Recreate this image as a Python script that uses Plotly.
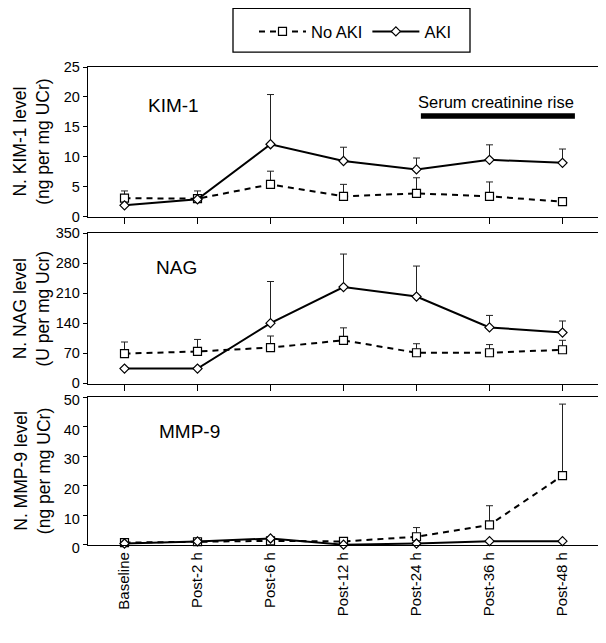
import plotly.graph_objects as go

# ---------------- data ----------------
categories = ["Baseline", "Post-2 h", "Post-6 h", "Post-12 h", "Post-24 h", "Post-36 h", "Post-48 h"]

kim1_no_aki = [3.1, 3.0, 5.4, 3.4, 3.9, 3.4, 2.5]
kim1_no_aki_err = [1.2, 1.3, 2.2, 2.0, 2.6, 2.4, 0.0]
kim1_aki = [1.9, 2.9, 12.1, 9.3, 7.9, 9.5, 9.0]
kim1_aki_err = [0.0, 0.0, 8.3, 2.3, 1.9, 2.5, 2.3]

nag_no_aki = [70, 75, 84, 101, 72, 72, 79]
nag_no_aki_err = [27, 28, 27, 29, 21, 19, 22]
nag_aki = [35, 35, 141, 225, 203, 131, 119]
nag_aki_err = [0, 0, 97, 77, 71, 28, 27]

mmp9_no_aki = [0.8, 1.1, 1.4, 1.2, 2.8, 6.8, 23.5]
mmp9_no_aki_err = [0, 0, 0, 0, 3.1, 6.5, 24.2]
mmp9_aki = [0.5, 1.2, 2.2, 0.1, 0.5, 1.3, 1.3]
mmp9_aki_err = [0, 0, 0, 0, 0, 0, 0]

panels = [
    ("KIM-1", "N. KIM-1 level<br>(ng per mg UCr)", kim1_no_aki, kim1_no_aki_err, kim1_aki, kim1_aki_err, 25, 5),
    ("NAG", "N. NAG level<br>(U per mg Ucr)", nag_no_aki, nag_no_aki_err, nag_aki, nag_aki_err, 350, 70),
    ("MMP-9", "N. MMP-9 level<br>(ng per mg UCr)", mmp9_no_aki, mmp9_no_aki_err, mmp9_aki, mmp9_aki_err, 50, 10),
]

FONT = "Arial, Liberation Sans, sans-serif"
# page has an 8px body margin; figure sized so that it fills the 606x643 window
W, H = 598, 635
ML, MR, MT, MB = 80, 7, 58, 98
PW = W - ML - MR
PH = H - MT - MB
PLOT_LEFT, PLOT_BOTTOM = 88, 545  # page pixels


def py(px):  # page pixel y (from top) -> paper y
    return (PLOT_BOTTOM - px) / PH


def pxx(px):  # page pixel x -> paper x
    return (px - PLOT_LEFT) / PW


domains = [[py(216), 1.0], [py(383.3), py(232.8)], [0.0, py(397)]]
label_pos = [(0.30, 18.6), (0.41, 271), (0.45, 38.3)]
label_shift = [0, -1, 3]

fig = go.Figure()
layout = {}
annotations = []

for i, (name, ytitle, no_aki, no_aki_err, aki, aki_err, ymax, dtick) in enumerate(panels):
    n = i + 1
    xa = "x" if n == 1 else f"x{n}"
    ya = "y" if n == 1 else f"y{n}"
    fig.add_trace(go.Scatter(
        x=categories, y=no_aki, xaxis=xa, yaxis=ya, name="No AKI", legendgroup="no",
        showlegend=(n == 1), mode="lines+markers", cliponaxis=False,
        line=dict(color="black", width=2, dash="6px,5px"),
        marker=dict(symbol="square", size=8, color="white", line=dict(color="black", width=1.2)),
        error_y=dict(type="data", symmetric=False, array=no_aki_err, arrayminus=[0] * 7,
                     color="#222", thickness=1, width=3.5),
    ))
    fig.add_trace(go.Scatter(
        x=categories, y=aki, xaxis=xa, yaxis=ya, name="AKI", legendgroup="aki",
        showlegend=(n == 1), mode="lines+markers", cliponaxis=False,
        line=dict(color="black", width=2),
        marker=dict(symbol="diamond", size=7, color="white", line=dict(color="black", width=1.2)),
        error_y=dict(type="data", symmetric=False, array=aki_err, arrayminus=[0] * 7,
                     color="#222", thickness=1, width=3.5),
    ))
    layout[("xaxis" if n == 1 else f"xaxis{n}")] = dict(
        domain=[0, 1], anchor=ya, type="category", range=[-0.5, 6.5],
        categoryorder="array", categoryarray=categories,
        showline=True, linecolor="black", linewidth=1.3, mirror=True,
        showgrid=False, zeroline=False,
        ticks="outside" if n < 3 else "", ticklen=6, tickcolor="black",
        showticklabels=(n == 3), tickangle=-90,
        tickfont=dict(family=FONT, size=15, color="black"),
    )
    layout[("yaxis" if n == 1 else f"yaxis{n}")] = dict(
        domain=domains[i], anchor=xa, range=[0, ymax], dtick=dtick, tick0=0,
        showline=True, linecolor="black", linewidth=1.3, mirror=True,
        showgrid=False, zeroline=False,
        ticks="outside", ticklen=4, tickcolor="black", ticklabelshift=label_shift[i],
        tickfont=dict(family=FONT, size=14.5, color="black"),
    )
    annotations.append(dict(
        x=label_pos[i][0], y=label_pos[i][1], xref=xa, yref=ya, text=name, showarrow=False,
        xanchor="left", yanchor="middle", font=dict(family=FONT, size=19, color="black"),
    ))
    d0, d1 = domains[i]
    annotations.append(dict(
        x=pxx(32), y=(d0 + d1) / 2, xref="paper", yref="paper", text=ytitle, showarrow=False,
        textangle=-90, xanchor="center", yanchor="middle",
        font=dict(family=FONT, size=17.5, color="black"),
    ))

# serum creatinine rise marker (panel 1)
annotations.append(dict(
    x=6.19, y=19.2, xref="x", yref="y", text="Serum creatinine rise", showarrow=False,
    xanchor="right", yanchor="middle", font=dict(family=FONT, size=16.5, color="black"),
))
shapes = [
    dict(type="line", xref="x", yref="y", x0=4.06, x1=6.17, y0=16.8, y1=16.8,
         line=dict(color="black", width=5.5)),
    dict(type="rect", xref="paper", yref="paper", x0=pxx(233), x1=pxx(470), y0=py(51), y1=py(7.3),
         line=dict(color="black", width=1.3), fillcolor="rgba(0,0,0,0)"),
]

fig.update_layout(
    width=W, height=H,
    margin=dict(l=ML, r=MR, t=MT, b=MB),
    paper_bgcolor="white", plot_bgcolor="white",
    font=dict(family=FONT, color="black"),
    showlegend=True,
    legend=dict(orientation="h", x=pxx(254), xanchor="left", y=py(31.7), yanchor="middle",
                font=dict(family=FONT, size=16.5, color="black"), bgcolor="rgba(0,0,0,0)",
                borderwidth=0, itemwidth=47),
    annotations=annotations,
    shapes=shapes,
    **layout,
)

fig.write_html("out.html")
